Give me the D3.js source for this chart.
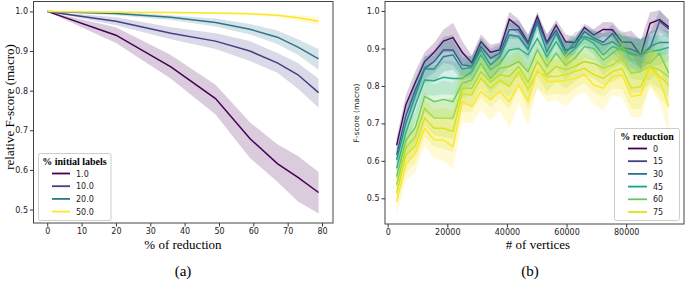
<!DOCTYPE html>
<html>
<head>
<meta charset="utf-8">
<script src="https://cdn.jsdelivr.net/npm/d3@7"></script>
<style>
  body { margin: 0; background: #fff; }
  .tick text { font-family: "DejaVu Sans", sans-serif; font-size: 8px; fill: #222; }
  .tick line { stroke: #333; }
</style>
</head>
<body>
<div id="graph"></div>
<script>
// ---- left panel data: relative F-score vs % of reduction ----
const reduction = [0, 20, 36, 49, 59, 67, 73, 79]
const initLabels = [1.0, 10.0, 20.0, 50.0]
const relMean = [
    [1.0, 0.94, 0.86, 0.78, 0.679, 0.616, 0.581, 0.543],
    [1.0, 0.975, 0.945, 0.925, 0.90, 0.87, 0.84, 0.795],
    [1.0, 0.995, 0.985, 0.972, 0.955, 0.935, 0.91, 0.88],
    [1.0, 0.998, 0.997, 0.996, 0.994, 0.99, 0.984, 0.975]
]
const relLow = [
    [1.0, 0.92, 0.83, 0.74, 0.63, 0.57, 0.52, 0.49],
    [1.0, 0.965, 0.93, 0.905, 0.875, 0.845, 0.805, 0.757],
    [1.0, 0.99, 0.978, 0.962, 0.942, 0.918, 0.89, 0.853],
    [1.0, 0.996, 0.995, 0.993, 0.99, 0.985, 0.977, 0.965]
]
const relHigh = [
    [1.0, 0.96, 0.89, 0.815, 0.72, 0.665, 0.635, 0.595],
    [1.0, 0.985, 0.96, 0.945, 0.925, 0.895, 0.87, 0.83],
    [1.0, 1.0, 0.99, 0.982, 0.968, 0.952, 0.93, 0.905],
    [1.0, 1.0, 0.999, 0.998, 0.997, 0.994, 0.99, 0.985]
]

// ---- right panel data: F-score vs # of vertices, one series per % reduction ----
const vertices = [3000, 6100, 9300, 12400, 15600, 18700, 21900, 25000, 28200, 31300,
    34500, 37600, 40800, 43900, 47100, 50200, 53400, 56500, 59700, 62800,
    66000, 69100, 72300, 75400, 78600, 81700, 84900, 88000, 91200, 94300]
const redLevels = [0, 20, 36, 49, 59, 67, 73, 79]
const fMean = [
    [0.642, 0.75, 0.81, 0.865, 0.89, 0.92, 0.929, 0.89, 0.862, 0.918, 0.89, 0.896, 0.978, 0.958, 0.916, 0.986, 0.916, 0.962, 0.918, 0.916, 0.956, 0.936, 0.951, 0.95, 0.917, 0.917, 0.882, 0.967, 0.977, 0.957],
    [0.616, 0.72, 0.79, 0.847, 0.865, 0.896, 0.896, 0.856, 0.853, 0.905, 0.874, 0.887, 0.95, 0.95, 0.912, 0.974, 0.913, 0.948, 0.895, 0.905, 0.945, 0.928, 0.916, 0.94, 0.903, 0.898, 0.885, 0.9, 0.973, 0.952],
    [0.603, 0.70, 0.775, 0.845, 0.845, 0.878, 0.883, 0.845, 0.85, 0.896, 0.856, 0.878, 0.936, 0.932, 0.898, 0.967, 0.89, 0.94, 0.887, 0.918, 0.932, 0.923, 0.909, 0.918, 0.9, 0.887, 0.88, 0.905, 0.916, 0.916],
    [0.58, 0.675, 0.75, 0.816, 0.814, 0.823, 0.82, 0.82, 0.838, 0.883, 0.843, 0.86, 0.896, 0.9, 0.883, 0.927, 0.878, 0.918, 0.878, 0.9, 0.927, 0.914, 0.883, 0.905, 0.896, 0.883, 0.881, 0.892, 0.896, 0.903],
    [0.558, 0.655, 0.69, 0.772, 0.758, 0.764, 0.758, 0.807, 0.816, 0.86, 0.82, 0.847, 0.852, 0.865, 0.838, 0.896, 0.852, 0.887, 0.856, 0.874, 0.905, 0.9, 0.869, 0.887, 0.905, 0.869, 0.865, 0.86, 0.887, 0.834],
    [0.536, 0.635, 0.665, 0.74, 0.714, 0.714, 0.714, 0.794, 0.794, 0.838, 0.81, 0.83, 0.825, 0.852, 0.81, 0.865, 0.83, 0.852, 0.843, 0.852, 0.865, 0.86, 0.847, 0.856, 0.874, 0.834, 0.838, 0.852, 0.843, 0.825],
    [0.514, 0.615, 0.64, 0.714, 0.687, 0.687, 0.678, 0.78, 0.776, 0.82, 0.794, 0.816, 0.798, 0.838, 0.79, 0.838, 0.825, 0.825, 0.83, 0.838, 0.847, 0.83, 0.82, 0.838, 0.847, 0.794, 0.798, 0.852, 0.825, 0.803],
    [0.492, 0.59, 0.62, 0.687, 0.656, 0.656, 0.638, 0.758, 0.745, 0.785, 0.763, 0.785, 0.758, 0.803, 0.758, 0.845, 0.812, 0.812, 0.815, 0.82, 0.83, 0.803, 0.794, 0.825, 0.83, 0.772, 0.776, 0.847, 0.816, 0.745]
]
// half width of the confidence band, per point
const fSpread = [
    [0.02, 0.025, 0.03, 0.025, 0.025, 0.03, 0.04, 0.03, 0.02, 0.02, 0.02, 0.02, 0.02, 0.02, 0.02, 0.012, 0.02, 0.015, 0.02, 0.015, 0.01, 0.015, 0.02, 0.02, 0.025, 0.03, 0.04, 0.03, 0.025, 0.02],
    [0.025, 0.03, 0.03, 0.03, 0.03, 0.035, 0.04, 0.03, 0.025, 0.025, 0.025, 0.025, 0.025, 0.025, 0.025, 0.015, 0.025, 0.02, 0.025, 0.02, 0.015, 0.02, 0.025, 0.025, 0.03, 0.035, 0.04, 0.04, 0.03, 0.025],
    [0.025, 0.03, 0.035, 0.035, 0.035, 0.04, 0.04, 0.03, 0.03, 0.03, 0.03, 0.03, 0.035, 0.03, 0.03, 0.02, 0.03, 0.025, 0.03, 0.025, 0.02, 0.025, 0.03, 0.03, 0.035, 0.04, 0.045, 0.04, 0.035, 0.03],
    [0.03, 0.035, 0.04, 0.04, 0.04, 0.045, 0.045, 0.035, 0.035, 0.035, 0.035, 0.035, 0.045, 0.035, 0.04, 0.03, 0.035, 0.03, 0.035, 0.03, 0.025, 0.03, 0.035, 0.035, 0.04, 0.045, 0.045, 0.04, 0.04, 0.035],
    [0.03, 0.04, 0.04, 0.045, 0.045, 0.05, 0.05, 0.04, 0.04, 0.04, 0.04, 0.04, 0.05, 0.04, 0.045, 0.035, 0.04, 0.035, 0.04, 0.035, 0.03, 0.035, 0.04, 0.04, 0.045, 0.05, 0.05, 0.045, 0.045, 0.045],
    [0.03, 0.04, 0.045, 0.045, 0.045, 0.05, 0.055, 0.045, 0.045, 0.045, 0.045, 0.045, 0.055, 0.045, 0.05, 0.04, 0.045, 0.04, 0.05, 0.04, 0.035, 0.04, 0.045, 0.045, 0.05, 0.055, 0.055, 0.045, 0.05, 0.055],
    [0.035, 0.045, 0.045, 0.05, 0.05, 0.055, 0.055, 0.05, 0.045, 0.05, 0.05, 0.05, 0.06, 0.045, 0.055, 0.045, 0.05, 0.045, 0.055, 0.045, 0.04, 0.045, 0.05, 0.045, 0.055, 0.055, 0.06, 0.05, 0.055, 0.06],
    [0.035, 0.045, 0.05, 0.045, 0.05, 0.055, 0.06, 0.055, 0.045, 0.05, 0.055, 0.05, 0.07, 0.05, 0.065, 0.05, 0.055, 0.05, 0.07, 0.05, 0.045, 0.05, 0.06, 0.05, 0.06, 0.055, 0.06, 0.05, 0.06, 0.07]
]
const legendRed = [0, 15, 30, 45, 60, 75]

const leftTicksX = [0, 10, 20, 30, 40, 50, 60, 70, 80]
const leftTicksY = [0.5, 0.6, 0.7, 0.8, 0.9, 1.0]
const rightTicksX = [0, 20000, 40000, 60000, 80000]
const rightTicksY = [0.5, 0.6, 0.7, 0.8, 0.9, 1.0]

var W = 685, H = 282
var svg = d3.select("#graph").append("svg")
    .attr("width", W).attr("height", H)

const serif = "'Liberation Serif', 'DejaVu Serif', serif"
const sans = "'DejaVu Sans', sans-serif"

// colours: viridis over the numeric hue range
const colLeft = v => d3.interpolateViridis((v - 1) / 49)
const colRight = v => d3.interpolateViridis(v / 79)

// ================= panel (a) =================
const xa = d3.scaleLinear().domain([-4, 83.2]).range([33.5, 333])
const ya = d3.scaleLinear().domain([0.466, 1.025]).range([223, 1.5])

var ga = svg.append("g")

initLabels.forEach(function (lab, i) {
    var pts = reduction.map((r, j) => ({ x: r, m: relMean[i][j], lo: relLow[i][j], hi: relHigh[i][j] }))
    ga.append("path")
        .datum(pts)
        .attr("d", d3.area().x(d => xa(d.x)).y0(d => ya(d.lo)).y1(d => ya(d.hi)))
        .attr("fill", colLeft(lab))
        .attr("fill-opacity", 0.2)
    ga.append("path")
        .datum(pts)
        .attr("d", d3.line().x(d => xa(d.x)).y(d => ya(d.m)))
        .attr("fill", "none")
        .attr("stroke", colLeft(lab))
        .attr("stroke-width", 1.5)
})

ga.append("g")
    .attr("transform", "translate(0,223)")
    .call(d3.axisBottom(xa).tickValues(leftTicksX).tickSize(3.5).tickPadding(2))
    .select(".domain").remove()
ga.append("g")
    .attr("transform", "translate(33.5,0)")
    .call(d3.axisLeft(ya).tickValues(leftTicksY).tickFormat(d3.format(".1f")).tickSize(3.5).tickPadding(2))
    .select(".domain").remove()

ga.append("rect")
    .attr("x", 33.5).attr("y", 1.5).attr("width", 299.5).attr("height", 221.5)
    .attr("fill", "none").attr("stroke", "#444").attr("stroke-width", 1)

// legend (a)
var la = ga.append("g")
la.append("rect")
    .attr("x", 38.5).attr("y", 153.5).attr("width", 72.5).attr("height", 67)
    .attr("rx", 2).attr("fill", "#fff").attr("fill-opacity", 0.8)
    .attr("stroke", "#ccc")
la.append("text")
    .attr("x", 74.5).attr("y", 165)
    .attr("text-anchor", "middle")
    .style("font-family", serif).style("font-size", "10px").style("font-weight", "bold")
    .text("% initial labels")
initLabels.forEach(function (lab, i) {
    var yy = 173.5 + i * 12.7
    la.append("line")
        .attr("x1", 52).attr("x2", 70).attr("y1", yy).attr("y2", yy)
        .attr("stroke", colLeft(lab)).attr("stroke-width", 1.8)
    la.append("text")
        .attr("x", 76).attr("y", yy + 3)
        .style("font-family", sans).style("font-size", "8px").style("fill", "#222")
        .text(d3.format(".1f")(lab))
})

ga.append("text")
    .attr("x", 183).attr("y", 249)
    .attr("text-anchor", "middle")
    .style("font-family", serif).style("font-size", "13px")
    .text("% of reduction")
ga.append("text")
    .attr("transform", "translate(14,107) rotate(-90)")
    .attr("text-anchor", "middle")
    .style("font-family", serif).style("font-size", "13px")
    .text("relative F-score (macro)")
ga.append("text")
    .attr("x", 183).attr("y", 276)
    .attr("text-anchor", "middle")
    .style("font-family", serif).style("font-size", "15px")
    .text("(a)")

// ================= panel (b) =================
const xb = d3.scaleLinear().domain([-900, 99400]).range([385, 684])
const yb = d3.scaleLinear().domain([0.4314, 1.0254]).range([224, 1.5])

var gb = svg.append("g")

redLevels.forEach(function (lev, i) {
    var pts = vertices.map((v, j) => ({ x: v, m: fMean[i][j], s: fSpread[i][j] }))
    gb.append("path")
        .datum(pts)
        .attr("d", d3.area().x(d => xb(d.x)).y0(d => yb(d.m - d.s)).y1(d => yb(d.m + d.s)))
        .attr("fill", colRight(lev))
        .attr("fill-opacity", 0.2)
    gb.append("path")
        .datum(pts)
        .attr("d", d3.line().x(d => xb(d.x)).y(d => yb(d.m)))
        .attr("fill", "none")
        .attr("stroke", colRight(lev))
        .attr("stroke-width", 1.4)
})

gb.append("g")
    .attr("transform", "translate(0,224)")
    .call(d3.axisBottom(xb).tickValues(rightTicksX).tickFormat(d3.format("d")).tickSize(3.5).tickPadding(2))
    .select(".domain").remove()
gb.append("g")
    .attr("transform", "translate(385,0)")
    .call(d3.axisLeft(yb).tickValues(rightTicksY).tickFormat(d3.format(".1f")).tickSize(3.5).tickPadding(2))
    .select(".domain").remove()

gb.append("rect")
    .attr("x", 385).attr("y", 1.5).attr("width", 299).attr("height", 222.5)
    .attr("fill", "none").attr("stroke", "#444").attr("stroke-width", 1)

// legend (b)
var lb = gb.append("g")
lb.append("rect")
    .attr("x", 614.5).attr("y", 128.5).attr("width", 65).attr("height", 92)
    .attr("rx", 2).attr("fill", "#fff").attr("fill-opacity", 0.8)
    .attr("stroke", "#ccc")
lb.append("text")
    .attr("x", 647).attr("y", 139.5)
    .attr("text-anchor", "middle")
    .style("font-family", serif).style("font-size", "10px").style("font-weight", "bold")
    .text("% reduction")
legendRed.forEach(function (lev, i) {
    var yy = 148.5 + i * 12.7
    lb.append("line")
        .attr("x1", 628).attr("x2", 647).attr("y1", yy).attr("y2", yy)
        .attr("stroke", colRight(lev)).attr("stroke-width", 1.8)
    lb.append("text")
        .attr("x", 653).attr("y", yy + 3)
        .style("font-family", sans).style("font-size", "8px").style("fill", "#222")
        .text(lev)
})

gb.append("text")
    .attr("x", 538).attr("y", 249)
    .attr("text-anchor", "middle")
    .style("font-family", serif).style("font-size", "13px")
    .text("# of vertices")
gb.append("text")
    .attr("transform", "translate(359,113) rotate(-90)")
    .attr("text-anchor", "middle")
    .style("font-family", sans).style("font-size", "7.5px").style("fill", "#222")
    .text("F-score (macro)")
gb.append("text")
    .attr("x", 530).attr("y", 276)
    .attr("text-anchor", "middle")
    .style("font-family", serif).style("font-size", "15px")
    .text("(b)")
</script>
</body>
</html>
